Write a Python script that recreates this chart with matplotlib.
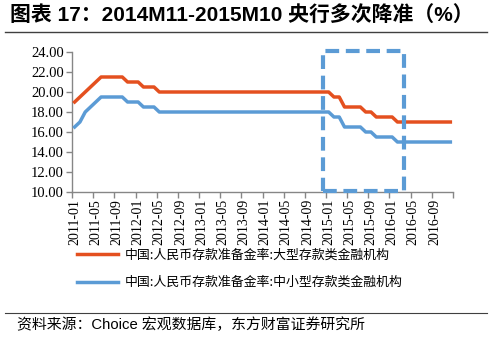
import matplotlib
matplotlib.use("Agg")
import matplotlib.pyplot as plt
from matplotlib.patches import Rectangle
from matplotlib.lines import Line2D

# ---- data ----
months = [f"{y}-{m:02d}" for y in range(2011, 2017) for m in range(1, 13)]
large = ([19.0, 19.5, 20.0, 20.5, 21.0, 21.5, 21.5, 21.5, 21.5, 21.5,
          21.0, 21.0, 21.0, 20.5, 20.5, 20.5] + [20.0] * 33 +
         [19.5, 19.5, 18.5, 18.5, 18.5, 18.5, 18.0, 18.0,
          17.5, 17.5, 17.5, 17.5] + [17.0] * 11)
small = ([16.5, 17.0, 18.0, 18.5, 19.0, 19.5, 19.5, 19.5, 19.5, 19.5,
          19.0, 19.0, 19.0, 18.5, 18.5, 18.5] + [18.0] * 33 +
         [17.5, 17.5, 16.5, 16.5, 16.5, 16.5, 16.0, 16.0,
          15.5, 15.5, 15.5, 15.5] + [15.0] * 11)
tick_labels = months[::4]
series_names = ["中国:人民币存款准备金率:大型存款类金融机构",
                "中国:人民币存款准备金率:中小型存款类金融机构"]
yticks = [10, 12, 14, 16, 18, 20, 22, 24]
box_start, box_end = 47.0, 62.3   # highlight window (month index)

title = "图表 17：2014M11-2015M10 央行多次降准（%）"
source = "资料来源：Choice 宏观数据库，东方财富证券研究所"

RED = "#E4501F"
BLUE = "#5B9BD5"
GRAY = "#868686"

fig = plt.figure(figsize=(4.92, 3.37), dpi=100)
ax = fig.add_axes([72 / 492, 1 - 192 / 337, (453 - 72) / 492, (192 - 52) / 337])

x = list(range(len(months)))
ax.plot(x, large, color=RED, lw=2.5, solid_joinstyle="round", zorder=3)
ax.plot(x, small, color=BLUE, lw=2.5, solid_joinstyle="round", zorder=3)

rect = Rectangle((box_start, 10.15), box_end - box_start, 24.1 - 10.15,
                 fill=False, edgecolor=BLUE, lw=3.0,
                 linestyle=(0, (3.3, 1.6)), zorder=4, clip_on=False)
ax.add_patch(rect)

ax.set_xlim(-0.5, len(months) - 0.5)
ax.set_ylim(10, 24)
ax.set_yticks(yticks)
ax.set_yticklabels([f"{v:.2f}" for v in yticks], fontfamily="Liberation Serif",
                   fontsize=10.5)
ax.set_xticks([i - 0.5 for i in range(0, len(months) + 1, 4)])
ax.set_xticklabels([])
ax.set_xticks(list(range(0, len(months), 4)), minor=True)
ax.set_xticklabels(tick_labels, minor=True, rotation=90,
                   fontfamily="Liberation Serif", fontsize=10)
ax.tick_params(axis="x", which="minor", length=0, pad=5)
ax.tick_params(axis="x", which="major", length=4, color=GRAY, width=1)
ax.tick_params(axis="y", length=4, color=GRAY, width=1, pad=2)
for s in ["top", "right"]:
    ax.spines[s].set_visible(False)
for s in ["left", "bottom"]:
    ax.spines[s].set_color(GRAY)
    ax.spines[s].set_linewidth(1)

handles = [Line2D([], [], color=RED, lw=2.5), Line2D([], [], color=BLUE, lw=2.5)]
fig.legend(handles, series_names, loc="upper left",
           bbox_to_anchor=(77 / 492, 1 - 249 / 337), frameon=False,
           borderpad=0, borderaxespad=0, handlelength=3.2, handletextpad=0.5,
           labelspacing=1.1, prop={"family": ["Noto Sans CJK SC"], "size": 9.3})

fig.text(10 / 492, 1 - 16 / 337, title, fontsize=15, fontweight="bold",
         family=["Liberation Sans", "Noto Sans CJK SC"], va="center", ha="left")
fig.add_artist(Line2D([5 / 492, 487 / 492], [1 - 32 / 337, 1 - 32 / 337],
                      color="#404040", lw=1.0))
fig.add_artist(Line2D([5 / 492, 487 / 492], [1 - 313 / 337, 1 - 313 / 337],
                      color="#404040", lw=0.8))
fig.text(17 / 492, 1 - 325 / 337, source, fontsize=10.7,
         family=["Liberation Sans", "Noto Sans CJK SC"], va="center", ha="left")

fig.savefig("out.png", dpi=100)
